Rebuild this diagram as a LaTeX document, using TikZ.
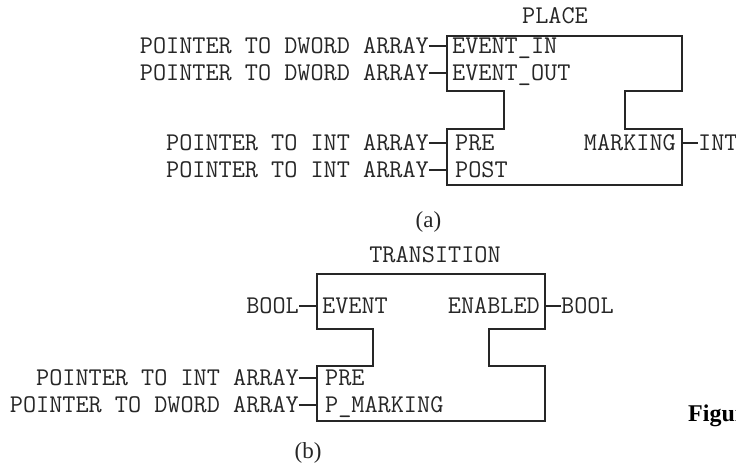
\documentclass[tikz,border=0pt]{standalone}
\usepackage{fontspec}
\setmainfont{Liberation Serif}
\begin{document}
\begin{tikzpicture}[x=1pt,y=-1pt,
  blk/.style={draw=black!85, line width=1.2pt, line join=miter},
  wire/.style={draw=black!85, line width=1.2pt},
  pin/.style={font=\ttfamily\fontsize{25.5}{27}\selectfont, inner sep=0pt,
              text height=15pt, text depth=0pt, text=black!85},
  subcap/.style={font=\fontsize{23}{26}\selectfont, inner sep=0pt, anchor=base, text=black!85}]
\useasboundingbox (0,0) rectangle (736,468);
\clip (0,0) rectangle (736,468);

% ---------------- PLACE block ----------------
\draw[blk] (447,36) -- (682,36) -- (682,91) -- (625,91) -- (625,129) -- (682,129)
  -- (682,185) -- (447,185) -- (447,129) -- (504,129) -- (504,91) -- (447,91) -- cycle;
\node[pin, anchor=center] (ptitle) at (555,16) {PLACE};

\node[pin, anchor=west] (pein)  at (452,46)  {EVENT\_IN};
\node[pin, anchor=west] (peout) at (452,73)  {EVENT\_OUT};
\node[pin, anchor=west] (ppre)  at (455,143) {PRE};
\node[pin, anchor=west] (ppost) at (455,170) {POST};
\node[pin, anchor=east] (pmark) at (676,143) {MARKING};

\coordinate (pa1) at (447,46);
\coordinate (pa2) at (447,73);
\coordinate (pa3) at (447,143);
\coordinate (pa4) at (447,170);
\coordinate (pa5) at (682,143);

\node[pin, anchor=east] (pi1) at (429,46)  {POINTER TO DWORD ARRAY};
\node[pin, anchor=east] (pi2) at (429,73)  {POINTER TO DWORD ARRAY};
\node[pin, anchor=east] (pi3) at (429,143) {POINTER TO INT ARRAY};
\node[pin, anchor=east] (pi4) at (429,170) {POINTER TO INT ARRAY};
\node[pin, anchor=west] (po1) at (698,143) {INT};

\draw[wire] (pi1.east) -- (pa1);
\draw[wire] (pi2.east) -- (pa2);
\draw[wire] (pi3.east) -- (pa3);
\draw[wire] (pi4.east) -- (pa4);
\draw[wire] (pa5) -- (po1.west);

\node[subcap] (capa) at (428.5,227.5) {(a)};

% ---------------- TRANSITION block ----------------
\draw[blk] (317,274) -- (545,274) -- (545,329) -- (489,329) -- (489,366) -- (545,366)
  -- (545,421) -- (317,421) -- (317,366) -- (373,366) -- (373,329) -- (317,329) -- cycle;
\node[pin, anchor=center] (ttitle) at (435,255) {TRANSITION};

\node[pin, anchor=west] (tev)  at (322,306) {EVENT};
\node[pin, anchor=east] (ten)  at (540,306) {ENABLED};
\node[pin, anchor=west] (tpre) at (325,378) {PRE};
\node[pin, anchor=west] (tpm)  at (325,405) {P\_MARKING};

\coordinate (ta1) at (317,306);
\coordinate (ta2) at (317,378);
\coordinate (ta3) at (317,405);
\coordinate (ta4) at (545,306);

\node[pin, anchor=east] (ti1) at (299,306) {BOOL};
\node[pin, anchor=east] (ti2) at (299,378) {POINTER TO INT ARRAY};
\node[pin, anchor=east] (ti3) at (299,405) {POINTER TO DWORD ARRAY};
\node[pin, anchor=west] (to1) at (561,306) {BOOL};

\draw[wire] (ti1.east) -- (ta1);
\draw[wire] (ti2.east) -- (ta2);
\draw[wire] (ti3.east) -- (ta3);
\draw[wire] (ta4) -- (to1.west);

\node[subcap] (capb) at (308,458.5) {(b)};

% caption text running off the right edge
\node[font=\bfseries\fontsize{24}{26}\selectfont, inner sep=0pt, anchor=base west] (fig)
  at (688,421) {Figure};
\end{tikzpicture}
\end{document}
